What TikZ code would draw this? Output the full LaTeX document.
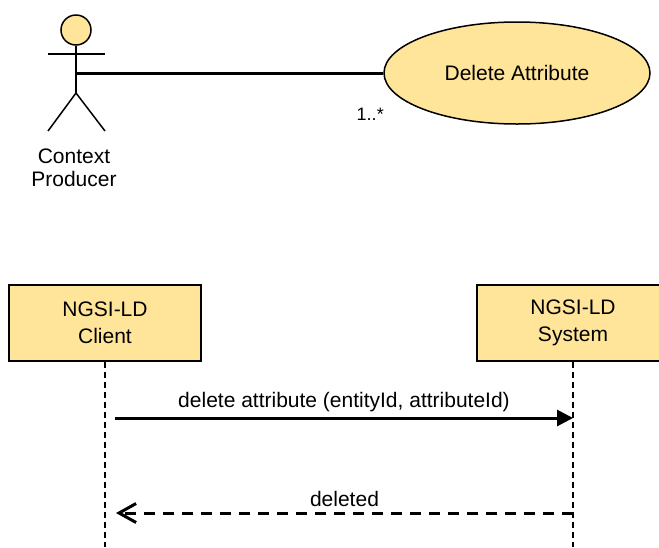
\documentclass[tikz,border=0pt]{standalone}
\usepackage{fontspec}
\setmainfont{Liberation Sans}
\usetikzlibrary{arrows.meta,shapes.geometric}
\definecolor{fillyel}{HTML}{FFE599}
\begin{document}
\begin{tikzpicture}[x=1pt,y=-1pt,
  every node/.style={font=\fontsize{21}{27}\selectfont},
  participant/.style={draw, line width=1.5pt, fill=fillyel, minimum width=192pt, minimum height=76pt, align=center, inner sep=0pt},
  usecase/.style={ellipse, draw, line width=1.5pt, fill=fillyel, minimum width=266pt, minimum height=102pt, inner sep=0pt},
  stick/.style={line width=1.5pt},
  lifeline/.style={line width=1.5pt, dash pattern=on 6pt off 4pt},
  callmsg/.style={line width=3pt, -{Triangle[length=16pt,width=16pt]}},
  replymsg/.style={line width=3pt, dash pattern=on 11pt off 8pt, -{Straight Barb[length=17pt,width=19pt]}},
  msglabel/.style={midway, above, inner sep=5pt}
]
\useasboundingbox (0,0) rectangle (659,547);

% actor
\node[circle, draw, stick, fill=fillyel, minimum size=30pt, inner sep=0pt] (head) at (76,30) {};
\coordinate (armL) at (48,54);
\coordinate (armR) at (105,54);
\coordinate (hip) at (76,93);
\coordinate (footL) at (48,131);
\coordinate (footR) at (105,131);
\draw[stick] (armL) -- (armR);
\draw[stick] (head.south) -- (hip);
\draw[stick] (footL) -- (hip) -- (footR);
\node[anchor=north, align=center, inner sep=0pt, font=\fontsize{21}{23}\selectfont] (actorlbl) at (74,149) {Context\\Producer};
\coordinate (actorpt) at (76,73);

% use case
\node[usecase] (uc) at (517,73) {Delete Attribute};
\draw[line width=3pt] (actorpt) -- (uc.west)
  node[at end, anchor=base east, xshift=2pt, yshift=-47pt, inner sep=0pt, font=\fontsize{18}{22}\selectfont] (mult) {1..*};

% sequence participants
\node[participant] (client) at (105,323) {NGSI-LD\\Client};
\node[participant] (system) at (573,323) {NGSI-LD\\System};
\coordinate (clientend) at (105,547);
\coordinate (systemend) at (573,547);
\draw[lifeline] (client.south) -- (clientend);
\draw[lifeline] (system.south) -- (systemend);

% messages
\coordinate (m1s) at (115,418);
\coordinate (m1e) at (573,418);
\coordinate (m2s) at (573,513);
\coordinate (m2e) at (116,513);
\draw[callmsg] (m1s) -- (m1e) node[msglabel] (m1lbl) {delete attribute (entityId, attributeId)};
\draw[replymsg] (m2s) -- (m2e) node[msglabel] (m2lbl) {deleted};
\end{tikzpicture}
\end{document}
